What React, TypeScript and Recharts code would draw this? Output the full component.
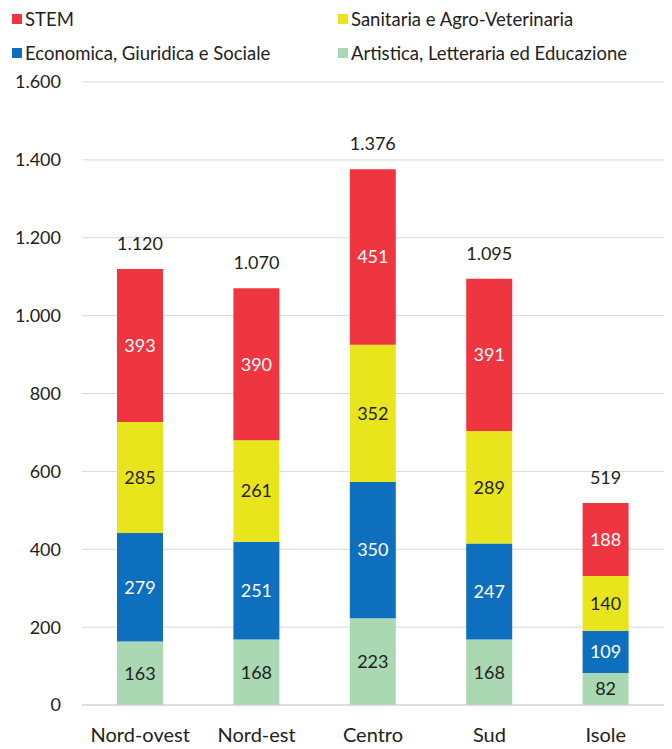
import { BarChart, Bar, XAxis, YAxis, CartesianGrid, LabelList } from "recharts";

const regions = ["Nord-ovest", "Nord-est", "Centro", "Sud", "Isole"];
const artistica = [163, 168, 223, 168, 82];
const economica = [279, 251, 350, 247, 109];
const sanitaria = [285, 261, 352, 289, 140];
const stem = [393, 390, 451, 391, 188];
const yTicks = [0, 200, 400, 600, 800, 1000, 1200, 1400, 1600];

const FONT = "Lato, 'Open Sans', sans-serif";

const series = [
  { key: "artistica", name: "Artistica, Letteraria ed Educazione", color: "#a9d8b2", text: "#222" },
  { key: "economica", name: "Economica, Giuridica e Sociale", color: "#0f6fbf", text: "#fff" },
  { key: "sanitaria", name: "Sanitaria e Agro-Veterinaria", color: "#e9e51c", text: "#222" },
  { key: "stem", name: "STEM", color: "#ef3540", text: "#fff" },
];

const data = regions.map((region, i) => ({
  region,
  artistica: artistica[i],
  economica: economica[i],
  sanitaria: sanitaria[i],
  stem: stem[i],
  total: artistica[i] + economica[i] + sanitaria[i] + stem[i],
}));

const fmt = (v: number) => v.toLocaleString("it-IT", { useGrouping: "always" } as any);

const legendOrder = ["stem", "sanitaria", "economica", "artistica"];

function LegendBox() {
  return (
    <div
      style={{
        position: "absolute",
        top: 0,
        left: 4,
        display: "grid",
        gridTemplateColumns: "326px 320px",
        rowGap: 13,
        fontFamily: FONT,
        fontSize: 18.5,
        color: "#222",
      }}
    >
      {legendOrder.map((k) => {
        const s = series.find((x) => x.key === k)!;
        return (
          <div key={k} style={{ display: "flex", alignItems: "center", height: 21 }}>
            <span style={{ width: 10, height: 10, background: s.color, marginRight: 3, display: "inline-block" }} />
            {s.name}
          </div>
        );
      })}
    </div>
  );
}

function TotalLabel(props: any) {
  const { x, y, width, index } = props;
  return (
    <text
      x={x + width / 2}
      y={y - 19}
      textAnchor="middle"
      fontFamily={FONT}
      fontSize={18}
      fill="#222"
    >
      {fmt(data[index].total)}
    </text>
  );
}

export default function App() {
  return (
    <div style={{ position: "relative", width: 664, height: 741 }}>
      <BarChart
        width={664}
        height={741}
        data={data}
        margin={{ top: 74, right: 8, bottom: 0, left: 0 }}
      >
        <CartesianGrid vertical={false} stroke="#d9d9d9" />
        <XAxis
          dataKey="region"
          height={44}
          axisLine={{ stroke: "#d0d0d0" }}
          tickLine={false}
          tickSize={0}
          tick={{ fontFamily: FONT, fontSize: 20, fill: "#222", dy: 21 }}
        />
        <YAxis
          width={74}
          domain={[0, 1600]}
          ticks={yTicks}
          axisLine={false}
          tickLine={false}
          tickSize={0}
          tickMargin={21}
          tickFormatter={fmt}
          tick={{ fontFamily: FONT, fontSize: 18, fill: "#222" }}
        />
        {series.map((s) => (
          <Bar
            key={s.key}
            dataKey={s.key}
            name={s.name}
            stackId="a"
            fill={s.color}
            barSize={46}
            isAnimationActive={false}
          >
            <LabelList
              dataKey={s.key}
              position="center"
              fill={s.text}
              style={{ fontFamily: FONT, fontSize: 18 }}
            />
            {s.key === "stem" && <LabelList dataKey="total" content={TotalLabel} />}
          </Bar>
        ))}
      </BarChart>
      <LegendBox />
    </div>
  );
}
